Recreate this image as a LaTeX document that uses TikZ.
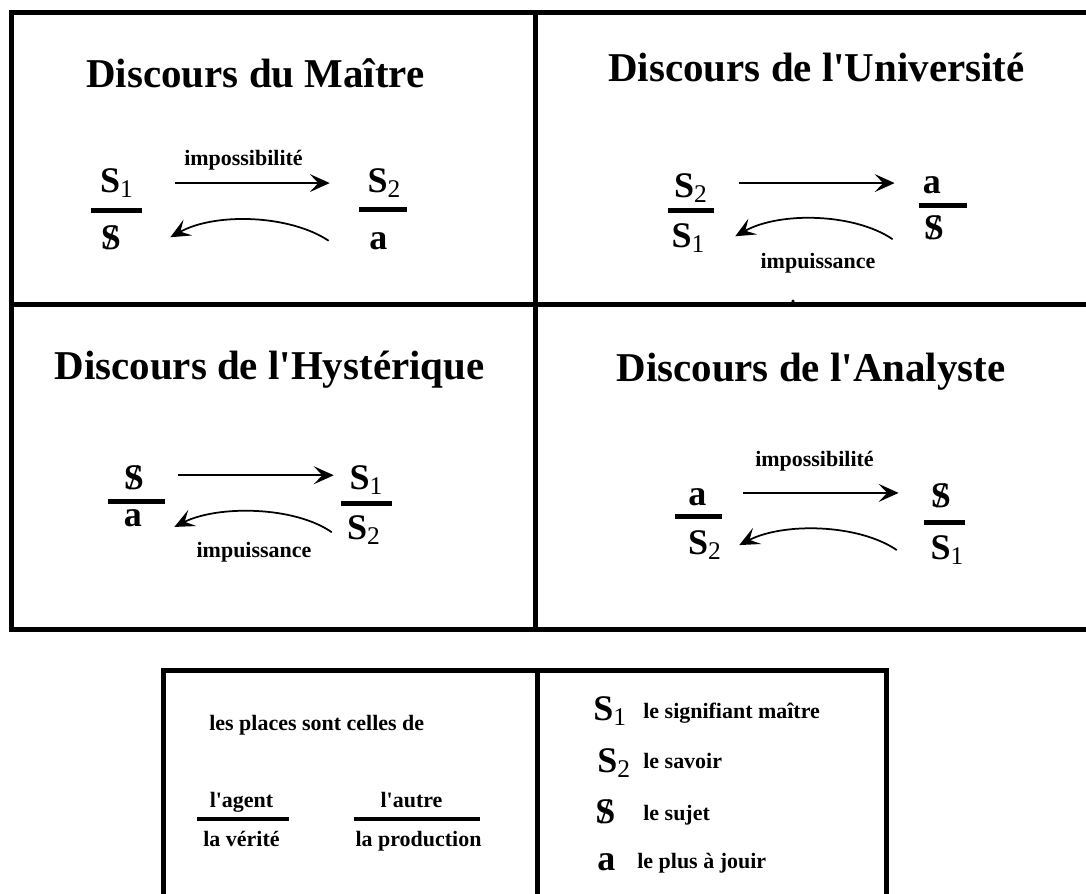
\documentclass[tikz,border=0pt]{standalone}
\usepackage{fontspec}
\setmainfont{Liberation Serif}
\usetikzlibrary{arrows.meta}
\newcommand{\barS}{\ooalign{S\cr\hidewidth{\mdseries/}\hidewidth\cr}}
\newcommand{\Sun}{S\raisebox{-3.4pt}{\mdseries\fontsize{14.5}{14.5}\selectfont 1}}
\newcommand{\Sdeux}{S\raisebox{-3.4pt}{\mdseries\fontsize{14.5}{14.5}\selectfont 2}}
\newcommand{\apo}{\textquotesingle}

\begin{document}
\begin{tikzpicture}[x=0.2mm,y=-0.2mm,
  titre/.style={font=\fontsize{23.3}{28}\selectfont\bfseries,inner sep=0pt,anchor=base},
  lettre/.style={font=\fontsize{20.5}{24}\selectfont\bfseries,inner sep=0pt,anchor=base},
  petit/.style={font=\fontsize{12.5}{15}\selectfont\bfseries,inner sep=0pt,anchor=base},
  cadre/.style={line width=1mm},
  barre/.style={line width=1mm},
  trait/.style={line width=0.7mm},
  fleche/.style={line width=0.35mm,-{Stealth[length=4mm,width=3.6mm,inset=1.7mm]}}]
\useasboundingbox (0,0) rectangle (1086,894);

\draw[cadre] (1086,12.5) -- (11.5,12.5) -- (11.5,629.5) -- (1086,629.5);
\draw[cadre] (11.5,304) -- (1086,304);
\draw[cadre] (535.5,12.5) -- (535.5,629.5);
\fill (793,301) circle (0.35mm);

\node[titre] (tm) at (255.5,87) {Discours du Maître};
\node[petit] (lm) at (243.5,165) {impossibilité};
\node[lettre] (m1) at (116.5,192) {\Sun};
\node[lettre] (m2) at (384,192) {\Sdeux};
\node[lettre] (m3) at (111,249) {\barS};
\node[lettre] (m4) at (378.5,249) {a};
\draw[barre] (91,210.5) -- (142,210.5);
\draw[barre] (359,209.5) -- (407,209.5);
\draw[fleche] ([xshift=8.4mm]m1.east) -- ([xshift=-7.5mm]m1.east -| m2.west);
\draw[fleche] ([xshift=-8.1mm]m4.west) .. controls +(-39,-26) and +(45,-25) .. ([xshift=9.8mm]m3.east);

\node[titre] (tu) at (816.5,81) {Discours de l\apo Université};
\node[lettre] (u1) at (690.5,197) {\Sdeux};
\node[lettre] (u2) at (932,193) {a};
\node[lettre] (u3) at (688,247) {\Sun};
\node[lettre] (u4) at (934,239) {\barS};
\node[petit] (lu) at (818,268) {impuissance};
\draw[barre] (668,210.5) -- (714,210.5);
\draw[barre] (919,205.5) -- (967,205.5);
\draw[fleche] ([xshift=6.4mm,yshift=1mm]u1.east) -- ([xshift=-5.6mm,yshift=1mm]u1.east -| u2.west);
\draw[fleche] ([xshift=-6.2mm,yshift=-2.4mm]u4.west) .. controls +(-38,-26) and +(45,-25) .. ([xshift=6.1mm,yshift=0.36mm]u3.east);

\node[titre] (th) at (269.5,379) {Discours de l\apo Hystérique};
\node[lettre] (h1) at (134,489) {\barS};
\node[lettre] (h2) at (366,489) {\Sun};
\node[lettre] (h3) at (133,526) {a};
\node[lettre] (h4) at (363.5,539) {\Sdeux};
\node[petit] (lh) at (254,557) {impuissance};
\draw[barre] (108,501.5) -- (165,501.5);
\draw[barre] (341,503) -- (392,503);
\draw[fleche] ([xshift=6.8mm,yshift=0.4mm]h1.east) -- ([xshift=-3.1mm,yshift=0.4mm]h1.east -| h2.west);
\draw[fleche] ([xshift=-3mm,yshift=-0.44mm]h4.west) .. controls +(-37,-26) and +(44,-22) .. ([xshift=6.4mm,yshift=-1.84mm]h3.east);

\node[titre] (ta) at (811,381) {Discours de l\apo Analyste};
\node[petit] (la) at (814.5,466) {impossibilité};
\node[lettre] (a1) at (697.5,505) {a};
\node[lettre] (a2) at (941,507) {\barS};
\node[lettre] (a3) at (704.5,554) {\Sdeux};
\node[lettre] (a4) at (947,559) {\Sun};
\draw[barre] (675,516.5) -- (722,516.5);
\draw[barre] (924,522.5) -- (965,522.5);
\draw[fleche] ([xshift=7.3mm,yshift=0.76mm]a1.east) -- ([xshift=-6.4mm,yshift=0.76mm]a1.east -| a2.west);
\draw[fleche] ([xshift=-6.7mm]a4.west) .. controls +(-38,-26) and +(45,-23) .. ([xshift=3.6mm]a3.east);

\draw[cadre] (163.5,894) -- (163.5,670.5) -- (886.5,670.5) -- (886.5,894);
\draw[cadre] (537,670.5) -- (537,894);
\node[petit,anchor=base west] (pl) at (209,730) {les places sont celles de};
\node[petit] (ag) at (241.5,807) {l\apo agent};
\node[petit] (ve) at (241.5,846) {la vérité};
\node[petit] (au) at (411.5,807) {l\apo autre};
\node[petit] (pr) at (418.5,846) {la production};
\draw[trait] (197,819) -- (289,819);
\draw[trait] (354,819) -- (480,819);

\node[lettre,anchor=base west] (k1) at (593,720) {\Sun};
\node[petit,anchor=base west] (e1) at (643,718) {le signifiant maître};
\node[lettre,anchor=base west] (k2) at (597,772) {\Sdeux};
\node[petit,anchor=base west] (e2) at (643,768) {le savoir};
\node[lettre,anchor=base west] (k3) at (595,823) {\barS};
\node[petit,anchor=base west] (e3) at (643,820) {le sujet};
\node[lettre,anchor=base west] (k4) at (597,870) {a};
\node[petit,anchor=base west] (e4) at (637,868) {le plus à jouir};
\end{tikzpicture}
\end{document}
